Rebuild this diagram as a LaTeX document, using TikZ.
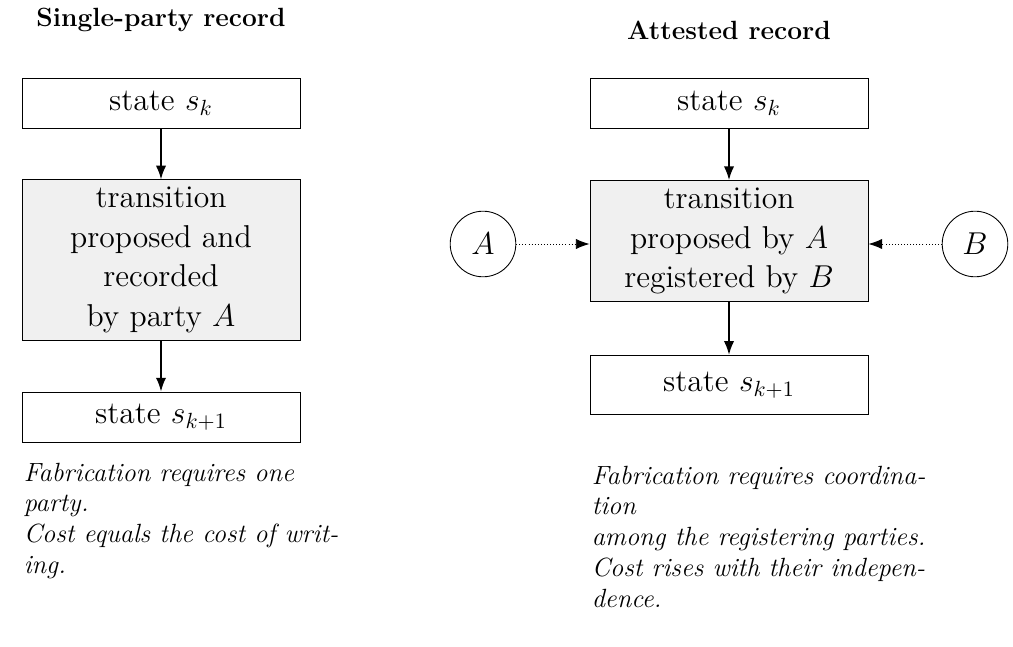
\documentclass[tikz,border=0pt]{standalone}
\usetikzlibrary{arrows.meta}
\tikzset{
  stbox/.style={draw,fill=white,minimum width=4.45cm,font=\Large,align=center},
  trbox/.style={draw,fill=gray!12,minimum width=4.45cm,font=\Large,align=center},
  party/.style={draw,circle,minimum size=1.05cm,font=\Large},
  flow/.style={-{Latex[length=2.2mm]},thick},
  feed/.style={-{Latex[length=2.2mm]},densely dotted},
  title/.style={font=\large\bfseries},
  note/.style={font=\large\itshape,align=left,anchor=north west}
}
\begin{document}
\begin{tikzpicture}[x=0.016cm,y=-0.016cm]
  \useasboundingbox (0,0) rectangle (1013,647);
  % single-party record
  \node[title] (lt) at (161,20) {Single-party record};
  \node[stbox,minimum height=0.8cm] (l1) at (161,103) {state $s_k$};
  \node[trbox,minimum height=2.5cm] (l2) at (161,260) {transition\\proposed and\\recorded\\by party $A$};
  \node[stbox,minimum height=0.8cm] (l3) at (161,417) {state $s_{k+1}$};
  \draw[flow] (l1) -- (l2);
  \draw[flow] (l2) -- (l3);
  \node[note] (ln) at (16,455) {Fabrication requires one\\party.\\Cost equals the cost of writ-\\ing.};
  % attested record
  \node[title] (rt) at (729,30) {Attested record};
  \node[stbox,minimum height=0.8cm] (r1) at (729,103) {state $s_k$};
  \node[trbox,minimum height=1.9cm] (r2) at (729,241) {transition\\proposed by $A$\\registered by $B$};
  \node[stbox,minimum height=0.95cm] (r3) at (729,385) {state $s_{k+1}$};
  \node[party] (pa) at (483,244) {$A$};
  \node[party] (pb) at (975,244) {$B$};
  \draw[flow] (r1) -- (r2);
  \draw[flow] (r2) -- (r3);
  \draw[feed] (pa) -- (pa -| r2.west);
  \draw[feed] (pb) -- (pb -| r2.east);
  \node[note] (rn) at (584,458) {Fabrication requires coordina-\\tion\\among the registering parties.\\Cost rises with their indepen-\\dence.};
\end{tikzpicture}
\end{document}
